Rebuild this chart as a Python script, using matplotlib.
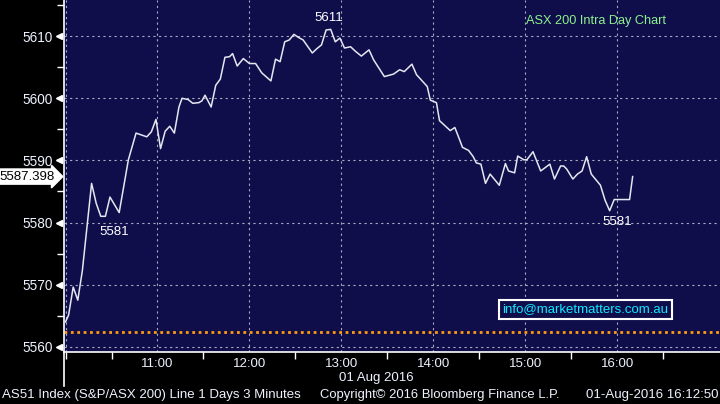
import matplotlib
matplotlib.use("Agg")
import matplotlib.pyplot as plt
import matplotlib.transforms as mtransforms
from matplotlib.lines import Line2D

plt.rcParams["font.family"] = ["Liberation Sans", "DejaVu Sans"]

# ---- data (minutes after 10:00, index level) ----
minutes = [0, 2, 5, 8, 11, 17, 20, 23, 26, 29, 35, 41, 46, 53, 56, 59, 62, 65, 68, 71,
           74, 76, 80, 83, 87, 89, 91, 95, 98, 101, 104, 107, 109, 112, 116, 120, 124, 128,
           134, 137, 140, 143, 146, 149, 152, 155, 161, 164, 167, 170, 173, 176, 179, 182,
           186, 189, 193, 198, 201, 208, 214, 218, 221, 226, 229, 236, 238, 242, 244, 251,
           254, 257, 259, 263, 266, 268, 271, 274, 277, 283, 287, 289, 293, 295, 299, 301,
           305, 310, 316, 319, 323, 325, 327, 331, 334, 337, 340, 343, 349, 352, 355, 358,
           368, 370]
values = [5564.0, 5565.1, 5569.6, 5567.5, 5572.3, 5586.3, 5583.1, 5581.0, 5581.0, 5584.1,
          5581.6, 5590.1, 5594.4, 5593.8, 5594.6, 5596.6, 5591.9, 5594.7, 5595.5, 5594.4,
          5598.6, 5600.0, 5599.8, 5599.2, 5599.3, 5599.6, 5600.5, 5598.6, 5602.1, 5603.1,
          5606.6, 5606.7, 5607.2, 5605.2, 5606.4, 5605.6, 5605.6, 5604.1, 5602.8, 5606.3,
          5605.9, 5609.1, 5609.4, 5610.3, 5609.8, 5609.4, 5607.3, 5608.0, 5608.6, 5611.0,
          5611.1, 5609.1, 5609.7, 5608.1, 5608.3, 5607.6, 5606.8, 5607.8, 5606.2, 5603.5,
          5603.9, 5604.6, 5604.3, 5605.5, 5603.8, 5601.9, 5599.7, 5599.3, 5596.4, 5594.8,
          5595.3, 5593.4, 5592.1, 5591.6, 5590.6, 5589.6, 5589.4, 5586.3, 5587.8, 5586.0,
          5589.5, 5588.3, 5588.0, 5590.7, 5590.1, 5590.1, 5591.4, 5588.3, 5589.4, 5587.0,
          5589.1, 5589.1, 5588.6, 5587.0, 5587.8, 5588.3, 5590.6, 5587.8, 5586.0, 5583.6,
          5581.9, 5583.7, 5583.7, 5587.398]
last_value = 5587.398
prev_close = 5562.3
hour_ticks = [60, 120, 180, 240, 300, 360]
hour_labels = ["11:00", "12:00", "13:00", "14:00", "15:00", "16:00"]
y_ticks = [5560, 5570, 5580, 5590, 5600, 5610]
# label text, minute position, level position
annotations = [("5611", 172, 5613.0), ("5581", 32, 5578.5), ("5581", 360, 5580.1)]

BG = "#0f0e4b"
TXT = "#eef2ff"

fig = plt.figure(figsize=(7.2, 4.04), dpi=100, facecolor="black")
ax = fig.add_axes([64 / 720, 1 - 352 / 404, 1 - 64 / 720, 352 / 404])
ax.set_facecolor(BG)
ax.set_xlim(-1, 427)
ax.set_ylim(5559.15, 5615.83)

for s in ["top", "right"]:
    ax.spines[s].set_visible(False)
ax.spines["left"].set_color("white")
ax.spines["bottom"].set_color("white")
ax.spines["left"].set_linewidth(1.2)
ax.spines["bottom"].set_linewidth(1.2)

# grid
for yv in y_ticks:
    ax.axhline(yv, color="#a8a8c0", lw=0.8, ls=(0, (2, 3)), zorder=1)
for xv in [0] + hour_ticks:
    ax.axvline(xv, color="#a8a8c0", lw=0.8, ls=(0, (2, 3)), zorder=1)

# previous close line
ax.axhline(prev_close, color="#ff9a10", lw=2.0, ls=(0, (1, 1.3)), zorder=2)

# price line
ax.plot(minutes, values, color="#e6e6f0", lw=1.1, zorder=3)

# ticks
ax.set_xticks(hour_ticks)
ax.set_xticklabels(hour_labels)
ax.set_xticks([0] + [h + 30 for h in [0] + hour_ticks], minor=True)
ax.tick_params(axis="x", which="major", length=0, pad=4, labelsize=9.5, labelcolor=TXT)
ax.tick_params(axis="x", which="minor", length=5, color="white", width=1)
ax.set_yticks(y_ticks)
ax.set_yticklabels([str(v) for v in y_ticks])
ax.set_yticks([v + 5 for v in y_ticks], minor=True)
ax.tick_params(axis="y", which="major", length=0, pad=8, labelsize=9.8, labelcolor=TXT)
ax.tick_params(axis="y", which="minor", length=5, color="white", width=1)

# triangle markers at major y ticks
trans = mtransforms.blended_transform_factory(ax.transAxes, ax.transData)
ax.plot([-0.008] * len(y_ticks), y_ticks, marker="<", color="white", ms=5, ls="none",
        transform=trans, clip_on=False)

# current value label
ax.text(-0.014, last_value, "5587.398", transform=trans, ha="right", va="center",
        fontsize=9.5, color="black",
        bbox=dict(boxstyle="rarrow,pad=0.12", fc="white", ec="white"))

# annotations
for txt, mx, my in annotations:
    ax.text(mx, my, txt, ha="center", va="center", fontsize=9.5, color="white")

# title
fig.text(526 / 720, 1 - 21 / 404, "ASX 200 Intra Day Chart", color="#8cf08c",
         fontsize=9.2, ha="left", va="center")

# email box
fig.text(585.5 / 720, 1 - 309.5 / 404, "info@marketmatters.com.au", color="#10e8ff",
         fontsize=9.5, ha="center", va="center",
         bbox=dict(boxstyle="square,pad=0.25", fc=BG, ec="white", lw=1.5))

# extended left spine below the axis
fig.add_artist(Line2D([64 / 720, 64 / 720], [1 - 352 / 404, 1 - 386 / 404],
                      color="white", lw=1.2, transform=fig.transFigure))

# bottom texts
fig.text(376 / 720, 1 - 378 / 404, "01 Aug 2016", color=TXT, fontsize=9.5, ha="center", va="center")
fig.text(2 / 720, 1 - 395 / 404, "AS51 Index (S&P/ASX 200) Line 1 Days 3 Minutes", color=TXT,
         fontsize=9.5, ha="left", va="center")
fig.text(320 / 720, 1 - 395 / 404, "Copyright\u00a9 2016 Bloomberg Finance L.P.", color=TXT,
         fontsize=9.4, ha="left", va="center")
fig.text(718 / 720, 1 - 395 / 404, "01-Aug-2016 16:12:50", color=TXT, fontsize=9.5,
         ha="right", va="center")

fig.savefig("out.png", dpi=100, facecolor="black")
